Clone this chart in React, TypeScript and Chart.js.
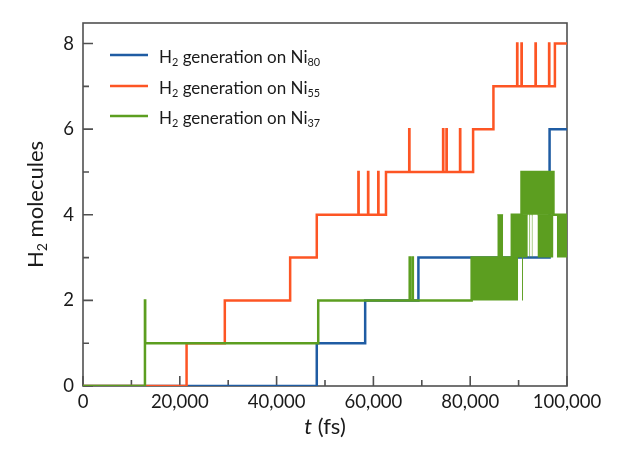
import React, { useEffect, useRef } from "react";
import { Chart, registerables } from "chart.js";

Chart.register(...registerables);

const FONT = "Lato";
const TEXT = "#1a1a1a";
const BLUE = "#1f5ca3";
const ORANGE = "#fd5524";
const GREEN = "#5c9e20";

// H2 generation on Ni80 (time in fs, molecule count held from that time)
const ni80Time = [0, 48300, 58300, 69300, 96400, 100000];
const ni80Count = [0, 1, 2, 3, 6, 6];

// H2 generation on Ni55
const ni55Time = [
  0, 21400, 29300, 42800, 48300,
  56900, 56950, 58900, 58950, 61000, 61050, 62600,
  67400, 67450, 74400, 74450, 75100, 75150, 77900, 77950, 80600,
  84800, 89700, 89750, 90600, 90650, 93500, 93550, 96300, 96350, 97500, 100000,
];
const ni55Count = [
  0, 1, 2, 3, 4,
  5, 4, 5, 4, 5, 4, 5,
  6, 5, 6, 5, 6, 5, 6, 5, 6,
  7, 8, 7, 8, 7, 8, 7, 8, 7, 8, 8,
];

// H2 generation on Ni37
const ni37Time = [0, 12800, 12850, 48600, 67500, 67550, 68100, 68150, 80300, 88600, 90600, 97200, 100000];
const ni37Count = [0, 2, 1, 2, 3, 2, 3, 2, 3, 4, 5, 4, 4];

// Ni37: intervals of rapid fluctuation between two counts
const ni37BandStart = [80300, 90700, 85600, 88600, 92200, 92700, 93900, 97900, 90600];
const ni37BandEnd = [89900, 90900, 86800, 91900, 92400, 92900, 97200, 100000, 97200];
const ni37BandLow = [2, 2, 3, 3, 3, 3, 3, 3, 4];
const ni37BandHigh = [3, 3, 4, 4, 4, 4, 4, 4, 5];

const xMajorTicks = [0, 20000, 40000, 60000, 80000, 100000];
const xMinorTicks = [10000, 30000, 50000, 70000, 90000];
const yMajorTicks = [0, 2, 4, 6, 8];
const yMinorTicks = [1, 3, 5, 7];

type Part = { t: string; sub?: boolean; italic?: boolean };

const legendEntries: { color: string; parts: Part[] }[] = [
  { color: BLUE, parts: [{ t: "H" }, { t: "2", sub: true }, { t: " generation on Ni" }, { t: "80", sub: true }] },
  { color: ORANGE, parts: [{ t: "H" }, { t: "2", sub: true }, { t: " generation on Ni" }, { t: "55", sub: true }] },
  { color: GREEN, parts: [{ t: "H" }, { t: "2", sub: true }, { t: " generation on Ni" }, { t: "37", sub: true }] },
];
const yTitle: Part[] = [{ t: "H" }, { t: "2", sub: true }, { t: " molecules" }];
const xTitle: Part[] = [{ t: "t", italic: true }, { t: " (fs)" }];

function fontFor(p: Part, size: number) {
  const s = p.sub ? size * 0.64 : size;
  return `${p.italic ? "italic " : ""}${s}px ${FONT}`;
}

function drawRich(ctx: CanvasRenderingContext2D, parts: Part[], x: number, y: number, size: number, align: "left" | "center") {
  ctx.textBaseline = "alphabetic";
  ctx.textAlign = "left";
  let total = 0;
  for (const p of parts) {
    ctx.font = fontFor(p, size);
    total += ctx.measureText(p.t).width;
  }
  let cx = align === "center" ? x - total / 2 : x;
  for (const p of parts) {
    ctx.font = fontFor(p, size);
    ctx.fillText(p.t, cx, p.sub ? y + size * 0.2 : y);
    cx += ctx.measureText(p.t).width;
  }
}

const toPoints = (t: number[], v: number[]) => t.map((x, i) => ({ x, y: v[i] }));

const decorPlugin = {
  id: "decor",
  beforeDatasetsDraw(chart: any) {
    const { ctx, chartArea } = chart;
    const xs = chart.scales.x;
    const ys = chart.scales.y;
    ctx.save();
    ctx.strokeStyle = "#505050";
    ctx.lineWidth = 1.6;
    ctx.strokeRect(chartArea.left, chartArea.top, chartArea.right - chartArea.left, chartArea.bottom - chartArea.top);
    ctx.beginPath();
    for (const v of xMajorTicks) {
      const px = xs.getPixelForValue(v);
      ctx.moveTo(px, chartArea.bottom);
      ctx.lineTo(px, chartArea.bottom - 10);
    }
    for (const v of xMinorTicks) {
      const px = xs.getPixelForValue(v);
      ctx.moveTo(px, chartArea.bottom);
      ctx.lineTo(px, chartArea.bottom - 6);
    }
    for (const v of yMajorTicks) {
      const py = ys.getPixelForValue(v);
      ctx.moveTo(chartArea.left, py);
      ctx.lineTo(chartArea.left + 10, py);
    }
    for (const v of yMinorTicks) {
      const py = ys.getPixelForValue(v);
      ctx.moveTo(chartArea.left, py);
      ctx.lineTo(chartArea.left + 6, py);
    }
    ctx.stroke();
    ctx.restore();
  },
  afterDraw(chart: any) {
    const { ctx, chartArea } = chart;
    ctx.save();
    ctx.fillStyle = TEXT;
    // legend
    const rowY = [55, 86, 116];
    legendEntries.forEach((e, i) => {
      ctx.strokeStyle = e.color;
      ctx.lineWidth = 2.5;
      ctx.beginPath();
      ctx.moveTo(110, rowY[i]);
      ctx.lineTo(148, rowY[i]);
      ctx.stroke();
      ctx.fillStyle = TEXT;
      drawRich(ctx, e.parts, 159, rowY[i] + 8, 17, "left");
    });
    // x title
    drawRich(ctx, xTitle, (chartArea.left + chartArea.right) / 2, 434, 22, "center");
    // y title
    ctx.translate(43, (chartArea.top + chartArea.bottom) / 2);
    ctx.rotate(-Math.PI / 2);
    drawRich(ctx, yTitle, 0, 0, 22, "center");
    ctx.restore();
  },
};

export default function App() {
  const ref = useRef<HTMLCanvasElement | null>(null);
  useEffect(() => {
    if (!ref.current) return;
    const lineBase = {
      stepped: "before" as const,
      pointRadius: 0,
      borderWidth: 2.5,
      fill: false,
      borderJoinStyle: "miter" as const,
    };
    const bands = ni37BandStart.map((s, i) => ({
      label: "band" + i,
      data: [
        { x: s, y: ni37BandHigh[i] },
        { x: ni37BandEnd[i], y: ni37BandHigh[i] },
      ],
      pointRadius: 0,
      borderWidth: 1,
      borderColor: GREEN,
      backgroundColor: GREEN,
      fill: { value: ni37BandLow[i] },
    }));
    const chart = new Chart(ref.current, {
      type: "line",
      data: {
        datasets: [
          { ...lineBase, label: "Ni37", data: toPoints(ni37Time, ni37Count), borderColor: GREEN },
          ...bands,
          { ...lineBase, label: "Ni55", data: toPoints(ni55Time, ni55Count), borderColor: ORANGE },
          { ...lineBase, label: "Ni80", data: toPoints(ni80Time, ni80Count), borderColor: BLUE },
        ] as any,
      },
      options: {
        responsive: false,
        devicePixelRatio: 1,
        animation: false,
        parsing: false as any,
        layout: { padding: { left: 0, top: 23, right: 65, bottom: 0 } },
        plugins: { legend: { display: false }, tooltip: { enabled: false } },
        scales: {
          x: {
            type: "linear",
            min: 0,
            max: 100000,
            grid: { display: false, drawTicks: false },
            border: { display: false },
            afterBuildTicks: (s: any) => {
              s.ticks = xMajorTicks.map((v) => ({ value: v }));
            },
            afterFit: (s: any) => {
              s.height = 82;
            },
            ticks: {
              autoSkip: false,
              maxRotation: 0,
              padding: 5,
              color: TEXT,
              font: { family: FONT, size: 18.5 },
              callback: (v: any) => Number(v).toLocaleString("en-US"),
            },
          },
          y: {
            type: "linear",
            min: 0,
            max: 8.48,
            grid: { display: false, drawTicks: false },
            border: { display: false },
            afterBuildTicks: (s: any) => {
              s.ticks = yMajorTicks.map((v) => ({ value: v }));
            },
            afterFit: (s: any) => {
              s.width = 83;
            },
            ticks: {
              padding: 9,
              color: TEXT,
              font: { family: FONT, size: 18.5 },
              callback: (v: any) => String(v),
            },
          },
        },
      },
      plugins: [decorPlugin],
    });
    return () => chart.destroy();
  }, []);
  return (
    <div style={{ position: "fixed", left: 0, top: 0, width: 632, height: 468, background: "#fff" }}>
      <canvas ref={ref} width={632} height={468} style={{ display: "block" }} />
    </div>
  );
}
